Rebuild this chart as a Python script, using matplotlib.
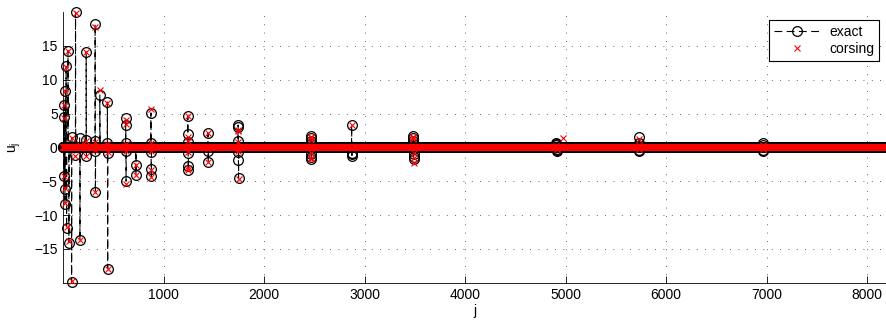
import numpy as np
import matplotlib
matplotlib.use("Agg")
import matplotlib.pyplot as plt

plt.rcParams['font.family'] = ['Liberation Sans', 'DejaVu Sans']
plt.rcParams['font.size'] = 10
plt.rcParams['mathtext.fontset'] = 'custom'
plt.rcParams['mathtext.rm'] = 'Liberation Sans'
plt.rcParams['mathtext.it'] = 'Liberation Sans'
plt.rcParams['mathtext.default'] = 'regular'

# Length of the coefficient vector
n_coeffs = 8191

# Nonzero coefficients: index j, exact value, CORSING recovery
nz_index = [6, 9, 12, 15, 18, 22, 29, 34, 48, 57, 84, 87, 116, 123, 164, 167,
            226, 229, 232, 318, 319, 320, 321, 365, 440, 441, 442, 443,
            622, 623, 624, 625, 626, 723, 724,
            873, 874, 875, 876, 877,
            1240, 1241, 1242, 1243, 1244, 1245,
            1441, 1442, 1443,
            1740, 1741, 1742, 1743, 1744, 1745,
            2464, 2465, 2466, 2467, 2468, 2469,
            2870, 2871, 2872, 2873,
            3483, 3484, 3485, 3486, 3487, 3488,
            4904, 4906, 4908, 4910, 4912, 4914, 4916, 4969,
            5729, 5730, 5731, 5732,
            6961, 6963, 6965, 6967]
exact_nz = [4.5, -4.3, 6.2, -6.1, -8.3, 8.4, 12.0, -11.9, 14.3, -14.1, -19.9, 1.5, -1.1, 20.0, 1.4, -13.7,
            1.1, 14.1, -1.2, 18.2, 1.0, -0.5, -6.6, 7.8, 6.7, 0.6, -0.8, -17.9,
            4.3, 3.3, 0.6, -0.6, -5.0, -2.6, -4.1,
            5.1, 0.7, -0.7, -3.2, -4.3,
            4.6, 2.0, 0.8, -0.8, -2.8, -3.3,
            2.1, -0.5, -2.2,
            3.3, 3.0, 0.9, -0.7, -1.8, -4.5,
            1.7, 1.4, 1.0, -1.0, -1.4, -1.7,
            3.3, -0.8, -1.0, -1.2,
            1.7, 1.4, 1.0, -1.0, -1.4, -1.7,
            0.6, 0.45, 0.3, 0.1, -0.3, -0.45, -0.6, 0.0,
            1.5, 0.6, -0.4, -0.6,
            0.6, 0.4, -0.4, -0.6]
corsing_nz = [4.4, -4.2, 6.2, -6.0, -8.2, 8.4, 11.9, -11.8, 14.2, -13.9, -19.8, 1.4, -1.2, 19.9, 0.3, -13.7,
              0.9, 14.1, -1.3, 17.8, 0.8, -0.4, -6.6, 8.5, 6.6, 0.5, -0.7, -17.9,
              4.0, 3.4, 0.5, -0.5, -5.4, -2.6, -4.1,
              5.6, 0.6, -0.6, -3.3, -4.4,
              4.6, 1.6, 0.9, -0.7, -3.0, -3.4,
              2.1, -0.3, -2.2,
              2.6, 2.4, 0.8, -0.5, -0.2, -4.6,
              1.6, 1.5, 1.1, -0.9, -1.5, -1.7,
              3.3, -0.1, 0.0, 0.1,
              1.6, 1.5, 1.2, -0.9, -1.6, -2.3,
              0.2, 0.2, 0.1, 0.0, -0.1, -0.2, -0.2, 1.4,
              1.2, 0.4, -0.2, -0.3,
              0.3, 0.2, -0.2, -0.3]

j = np.arange(1, n_coeffs + 1)
exact = np.zeros(n_coeffs)
corsing = np.zeros(n_coeffs)
exact[np.array(nz_index) - 1] = exact_nz
corsing[np.array(nz_index) - 1] = corsing_nz

fig = plt.figure(figsize=(8.86, 3.25), dpi=100)
ax = fig.add_axes([0.0714, 0.130, 0.9291, 0.833])

ax.plot(j, exact, color='k', linestyle='--', dashes=(7, 4), linewidth=0.8,
        marker='o', markersize=7, markerfacecolor='none', markeredgecolor='k',
        markeredgewidth=0.9, label='exact', zorder=3, clip_on=False)
ax.plot(j, corsing, linestyle='none', marker='x', markersize=5,
        markeredgecolor='red', markeredgewidth=0.8, label='corsing', zorder=4,
        clip_on=False)

ax.set_xlim(1, n_coeffs)
ax.set_ylim(-20, 20)
ax.set_xticks([1000, 2000, 3000, 4000, 5000, 6000, 7000, 8000])
ax.set_yticks([-15, -10, -5, 0, 5, 10, 15])
ax.tick_params(direction='in', length=5, width=0.6, labelsize=10, pad=4)
ax.grid(True, color='0.2', linestyle=(0, (1, 9)), linewidth=0.6)
ax.set_axisbelow(True)
for side in ('top', 'right'):
    ax.spines[side].set_visible(False)
for side in ('left', 'bottom'):
    ax.spines[side].set_linewidth(0.6)

ax.set_xlabel('j', labelpad=1)
ax.set_ylabel('$u_j$', labelpad=8)

leg = ax.legend(loc='upper right', bbox_to_anchor=(0.991, 0.970), borderaxespad=0,
                fancybox=False, framealpha=1, edgecolor='k', fontsize=10,
                handlelength=3.4, handletextpad=0.6, borderpad=0.35, labelspacing=0.2,
                numpoints=1)
leg.get_frame().set_linewidth(0.8)
leg.set_zorder(10)

fig.savefig('out.png', dpi=100)
